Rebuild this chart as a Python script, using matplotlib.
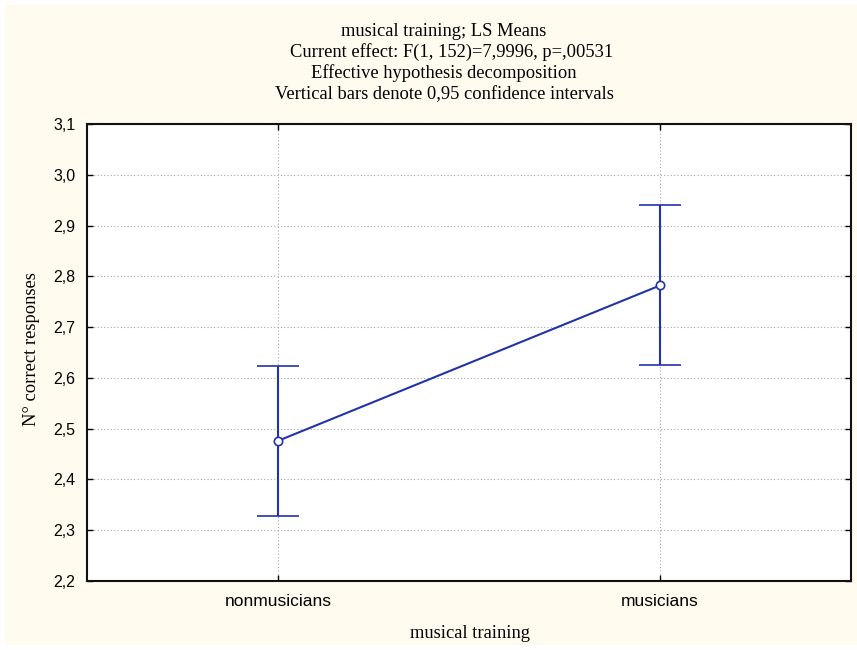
import matplotlib
matplotlib.use("Agg")
import matplotlib.pyplot as plt
from matplotlib.patches import Rectangle

# ---- data ----
categories = ["nonmusicians", "musicians"]
means = [2.476, 2.782]
ci_low = [2.328, 2.625]
ci_high = [2.623, 2.941]
y_ticks = [2.2, 2.3, 2.4, 2.5, 2.6, 2.7, 2.8, 2.9, 3.0, 3.1]
title_lines = [
    "musical training; LS Means",
    "Current effect: F(1, 152)=7,9996, p=,00531",
    "Effective hypothesis decomposition",
    "Vertical bars denote 0,95 confidence intervals",
]
x_label = "musical training"
y_label = "N° correct responses"

W, H = 857, 650
DPI = 100
BLUE = "#2233A8"
BEIGE = "#FFFCEF"

fig = plt.figure(figsize=(W / DPI, H / DPI), dpi=DPI, facecolor="white")
# beige panel with thin white margin (top/left/bottom)
fig.patches.append(Rectangle((5 / W, 5 / H), 1 - 5 / W, 1 - 10 / H,
                             transform=fig.transFigure, facecolor=BEIGE,
                             edgecolor="none", zorder=-10))

ax = fig.add_axes([87 / W, (H - 581) / H, (851 - 87) / W, (581 - 124) / H])
ax.set_facecolor("white")

x = list(range(len(categories)))
yerr = [[m - lo for m, lo in zip(means, ci_low)],
        [hi - m for m, hi in zip(means, ci_high)]]
ax.errorbar(x, means, yerr=yerr, color=BLUE, lw=1.5, elinewidth=1.5,
            capsize=15, capthick=1.5, marker="o", markersize=6,
            markerfacecolor="white", markeredgecolor=BLUE,
            markeredgewidth=1.2, zorder=5)

ax.set_xlim(-0.5, 1.5)
ax.set_ylim(2.2, 3.1)
ax.set_xticks(x)
ax.set_xticklabels(categories, family="Liberation Sans", fontsize=12.5)
ax.set_yticks(y_ticks)
ax.set_yticklabels([f"{v:.1f}".replace(".", ",") for v in y_ticks],
                   family="Liberation Sans", fontsize=11.5)
ax.tick_params(axis="both", direction="in", length=4, width=1, color="black",
               top=True, right=True)
ax.tick_params(axis="y", pad=8.5)
ax.tick_params(axis="x", pad=9.5)
ax.grid(True, linestyle=(0, (1, 2)), color="#A8A8A8", linewidth=0.8)
ax.set_axisbelow(True)
for s in ax.spines.values():
    s.set_linewidth(1.5)
    s.set_color("#111111")

# titles
baselines = [36, 57, 78, 99]
xs = [444, 452, 444, 444]
for line, yy, xx in zip(title_lines, baselines, xs):
    fig.text(xx / W, 1 - yy / H, line, ha="center", va="baseline",
             family="Liberation Serif", fontsize=13.3)

fig.text(470 / W, 1 - 633 / H, x_label, ha="center", va="center",
         family="Liberation Serif", fontsize=13.3)
fig.text(32 / W, 1 - 349 / H, y_label, ha="center", va="center",
         rotation=90, family="Liberation Serif", fontsize=13.3)

fig.savefig("out.png", dpi=DPI, facecolor="white")
